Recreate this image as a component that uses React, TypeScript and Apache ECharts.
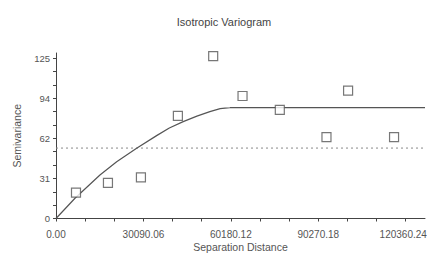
import React, { useEffect, useRef } from "react";
import * as echarts from "echarts";

const title = "Isotropic Variogram";
const xName = "Separation Distance";
const yName = "Semivariance";

// experimental variogram points [distance, semivariance]
const lagDistances = [6880, 17880, 29230, 41950, 54100, 64200, 77030, 93090, 100530, 116350];
const semivariances = [20.2, 27.8, 32.0, 80.0, 126.5, 95.5, 84.6, 63.4, 99.6, 63.4];

// fitted model curve
const modelDistances = [0, 6530, 15130, 20880, 27750, 34630, 39000, 43780, 48500, 52960, 56500, 59840, 60180, 127000];
const modelValues = [0, 15.8, 33.9, 44.3, 54.8, 64.6, 70.5, 75.5, 79.8, 83.3, 85.6, 86.4, 86.5, 86.5];

const sampleVariance = 54.9;

const xLabelValues = [0, 30090.06, 60180.12, 90270.18, 120360.24];
const xMinorStep = 10030.02;
const yLabelValues = [0, 31.25, 62.5, 93.75, 125];
const yLabelTexts = ["0", "31", "62", "94", "125"];
const yMinorStep = 125 / 12;

const X_MAX = 127000;
const Y_MAX = 129;

export default function App() {
  const ref = useRef<HTMLDivElement>(null);
  useEffect(() => {
    if (!ref.current) return;
    const chart = echarts.init(ref.current, null, { renderer: "svg" });
    const xTicks: number[] = [];
    for (let k = 0; k * xMinorStep <= 120360.25; k++) xTicks.push(+(k * xMinorStep).toFixed(2));
    const yTicks: number[] = [];
    for (let k = 0; k <= 12; k++) yTicks.push(k * yMinorStep);
    const axisColor = "#444";
    const labelColor = "#555";
    const font = "Liberation Sans, Arial, sans-serif";
    const lastX = xLabelValues[xLabelValues.length - 1];
    chart.setOption({
      animation: false,
      backgroundColor: "#fff",
      title: {
        text: title,
        left: 219,
        textAlign: "center",
        top: 11,
        textStyle: { fontSize: 11, fontWeight: "normal", color: "#444", fontFamily: font },
      },
      grid: { left: 56, top: 53, right: 2, bottom: 34.5, containLabel: false, outerBoundsMode: "none" },
      xAxis: {
        type: "value",
        min: 0,
        max: X_MAX,
        name: xName,
        nameLocation: "middle",
        nameGap: 23,
        nameMoveOverlap: false,
        nameTextStyle: { fontSize: 10.5, color: "#555", fontFamily: font, verticalAlign: "top" },
        axisLine: { show: true, onZero: false, lineStyle: { color: axisColor, width: 1 } },
        axisTick: { show: true, length: 3, inside: false, customValues: xTicks, lineStyle: { color: axisColor } },
        axisLabel: {
          customValues: xLabelValues,
          formatter: (v: number) => (Math.abs(v - lastX) < 0.01 ? "{last|" + v.toFixed(2) + "}" : v.toFixed(2)),
          rich: { last: { fontSize: 10, color: labelColor, fontFamily: font, padding: [0, 5, 0, 0] } },
          fontSize: 10,
          color: labelColor,
          margin: 11,
          hideOverlap: false,
          fontFamily: font,
        },
        splitLine: { show: false },
      },
      yAxis: {
        type: "value",
        min: 0,
        max: Y_MAX,
        name: yName,
        nameLocation: "middle",
        nameGap: 34,
        nameTextStyle: { fontSize: 10.5, color: "#555", fontFamily: font },
        axisLine: { show: true, onZero: false, lineStyle: { color: axisColor, width: 1 } },
        axisTick: { show: true, length: 3, inside: false, customValues: yTicks, lineStyle: { color: axisColor } },
        axisLabel: {
          customValues: yLabelValues,
          formatter: (v: number) => {
            const i = yLabelValues.findIndex((y) => Math.abs(y - v) < 1e-6);
            return i >= 0 ? yLabelTexts[i] : "";
          },
          fontSize: 9.5,
          color: labelColor,
          margin: 6,
          fontFamily: font,
        },
        splitLine: { show: false },
      },
      series: [
        {
          type: "line",
          data: [[0, sampleVariance], [X_MAX, sampleVariance]],
          symbol: "none",
          lineStyle: { color: "#888", width: 1, type: [2, 3] },
          z: 1,
        },
        {
          type: "line",
          data: modelDistances.map((d, i) => [d, modelValues[i]]),
          symbol: "none",
          smooth: false,
          lineStyle: { color: "#555", width: 1.2 },
          z: 2,
        },
        {
          type: "scatter",
          data: lagDistances.map((d, i) => [d, semivariances[i]]),
          symbol: "rect",
          symbolSize: 9,
          itemStyle: { color: "#fff", borderColor: "#555", borderWidth: 1.2 },
          z: 3,
        },
      ],
    });
    return () => chart.dispose();
  }, []);
  return <div ref={ref} style={{ width: 427, height: 253, position: "absolute", left: 0, top: 0 }} />;
}
